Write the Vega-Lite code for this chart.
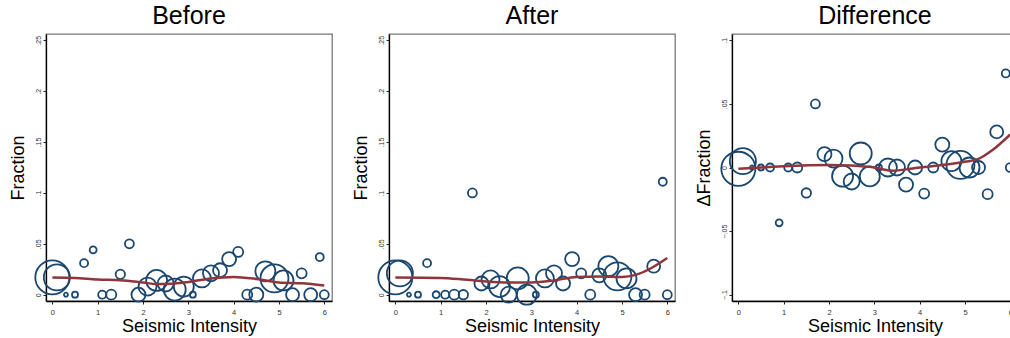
{
  "$schema": "https://vega.github.io/schema/vega-lite/v6.json",
  "padding": {"left": 8, "top": 3, "right": 0, "bottom": 0},
  "background": "white",
  "config": {
    "font": "Liberation Sans",
    "view": {"stroke": "#777777", "strokeWidth": 1.3},
    "concat": {"spacing": 57},
    "title": {"fontSize": 25, "fontWeight": "normal", "color": "#000000", "font": "Liberation Sans", "offset": 5},
    "axis": {
      "grid": false,
      "domainColor": "#000000",
      "domainWidth": 1.3,
      "tickColor": "#222222",
      "tickSize": 3,
      "tickWidth": 1,
      "labelColor": "#333333",
      "labelFont": "Liberation Sans",
      "titleFont": "Liberation Sans",
      "titleFontSize": 18,
      "titleFontWeight": "normal",
      "titleColor": "#000000"
    },
    "axisX": {"labelFontSize": 7.5, "labelPadding": 4, "titlePadding": 2, "labelFlush": false},
    "axisY": {"labelFontSize": 7, "labelAngle": -90, "labelAlign": "center", "labelBaseline": "bottom", "labelPadding": 2, "titlePadding": 7, "labelFlush": false}
  },
  "bounds": "flush",
  "datasets": {
    "bins": [
      {"x": 0, "w": 290, "before": 0.017, "after": 0.017, "diff": -0.001},
      {"x": 0.1, "w": 170, "before": 0.017, "after": 0.021, "diff": 0.005},
      {"x": 0.3, "w": 4, "before": 0, "after": 0, "diff": 0},
      {"x": 0.5, "w": 9, "before": 0, "after": 0, "diff": 0},
      {"x": 0.7, "w": 16, "before": 0.031, "after": 0.031, "diff": 0},
      {"x": 0.9, "w": 12, "before": 0.044, "after": 0, "diff": -0.0435},
      {"x": 1.1, "w": 16, "before": 0, "after": 0, "diff": 0},
      {"x": 1.3, "w": 25, "before": 0, "after": 0, "diff": 0},
      {"x": 1.5, "w": 22, "before": 0.02, "after": 0, "diff": -0.02},
      {"x": 1.7, "w": 20, "before": 0.05, "after": 0.1, "diff": 0.05},
      {"x": 1.9, "w": 49, "before": 0, "after": 0.011, "diff": 0.0105},
      {"x": 2.1, "w": 81, "before": 0.008, "after": 0.015, "diff": 0.007},
      {"x": 2.3, "w": 110, "before": 0.014, "after": 0.008, "diff": -0.0068},
      {"x": 2.5, "w": 64, "before": 0.011, "after": 0, "diff": -0.011},
      {"x": 2.7, "w": 121, "before": 0.005, "after": 0.016, "diff": 0.011},
      {"x": 2.9, "w": 100, "before": 0.008, "after": 0, "diff": -0.007},
      {"x": 3.1, "w": 9, "before": 0, "after": 0, "diff": 0},
      {"x": 3.3, "w": 81, "before": 0.016, "after": 0.016, "diff": 0},
      {"x": 3.5, "w": 64, "before": 0.021, "after": 0.021, "diff": 0},
      {"x": 3.7, "w": 49, "before": 0.024, "after": 0.011, "diff": -0.0135},
      {"x": 3.9, "w": 49, "before": 0.035, "after": 0.035, "diff": 0},
      {"x": 4.1, "w": 25, "before": 0.042, "after": 0.021, "diff": -0.0205},
      {"x": 4.3, "w": 25, "before": 0, "after": 0, "diff": 0},
      {"x": 4.5, "w": 49, "before": 0, "after": 0.019, "diff": 0.018},
      {"x": 4.7, "w": 100, "before": 0.023, "after": 0.028, "diff": 0.005},
      {"x": 4.9, "w": 196, "before": 0.016, "after": 0.018, "diff": 0.002},
      {"x": 5.1, "w": 100, "before": 0.014, "after": 0.016, "diff": 0},
      {"x": 5.3, "w": 42, "before": 0, "after": 0, "diff": 0},
      {"x": 5.5, "w": 25, "before": 0.021, "after": 0, "diff": -0.021},
      {"x": 5.7, "w": 42, "before": 0, "after": 0.028, "diff": 0.028},
      {"x": 5.9, "w": 16, "before": 0.037, "after": 0.111, "diff": 0.074},
      {"x": 6.0, "w": 20, "before": 0, "after": 0, "diff": 0}
    ],
    "fit": [
      {"panel": "before", "x": 0, "y": 0.017},
      {"panel": "before", "x": 0.5, "y": 0.0165},
      {"panel": "before", "x": 1, "y": 0.015},
      {"panel": "before", "x": 1.5, "y": 0.0143},
      {"panel": "before", "x": 2, "y": 0.012},
      {"panel": "before", "x": 2.3, "y": 0.0105},
      {"panel": "before", "x": 2.7, "y": 0.011},
      {"panel": "before", "x": 3, "y": 0.0125},
      {"panel": "before", "x": 3.5, "y": 0.016},
      {"panel": "before", "x": 4, "y": 0.0175},
      {"panel": "before", "x": 4.5, "y": 0.0155},
      {"panel": "before", "x": 5, "y": 0.012},
      {"panel": "before", "x": 5.5, "y": 0.0112},
      {"panel": "before", "x": 6, "y": 0.009},
      {"panel": "after", "x": 0, "y": 0.017},
      {"panel": "after", "x": 1, "y": 0.0165},
      {"panel": "after", "x": 1.5, "y": 0.015},
      {"panel": "after", "x": 2, "y": 0.013},
      {"panel": "after", "x": 2.5, "y": 0.012},
      {"panel": "after", "x": 3, "y": 0.012},
      {"panel": "after", "x": 3.5, "y": 0.014},
      {"panel": "after", "x": 4, "y": 0.0175},
      {"panel": "after", "x": 4.5, "y": 0.018},
      {"panel": "after", "x": 5, "y": 0.0175},
      {"panel": "after", "x": 5.3, "y": 0.0195},
      {"panel": "after", "x": 5.6, "y": 0.025},
      {"panel": "after", "x": 6, "y": 0.036},
      {"panel": "diff", "x": 0, "y": -0.001},
      {"panel": "diff", "x": 0.5, "y": 0},
      {"panel": "diff", "x": 1, "y": 0.001},
      {"panel": "diff", "x": 2, "y": 0.002},
      {"panel": "diff", "x": 2.5, "y": 0.0015},
      {"panel": "diff", "x": 3, "y": 0},
      {"panel": "diff", "x": 3.4, "y": -0.0025},
      {"panel": "diff", "x": 3.8, "y": -0.001},
      {"panel": "diff", "x": 4, "y": 0},
      {"panel": "diff", "x": 4.5, "y": 0.002},
      {"panel": "diff", "x": 5, "y": 0.0045},
      {"panel": "diff", "x": 5.3, "y": 0.0068},
      {"panel": "diff", "x": 5.6, "y": 0.0135},
      {"panel": "diff", "x": 6, "y": 0.026}
    ]
  },
  "hconcat": [
    {
      "width": 286,
      "height": 267,
      "title": "Before",
      "layer": [
        {
          "mark": {"type": "rule", "color": "#555555", "strokeWidth": 1, "strokeDash": [5, 2.5]},
          "encoding": {"x": {"datum": 4, "type": "quantitative"}}
        },
        {
          "data": {"name": "bins"},
          "mark": {"type": "point", "shape": "circle", "filled": false, "stroke": "#1a476f", "strokeWidth": 1.8, "opacity": 1, "clip": false},
          "encoding": {
            "x": {"field": "x", "type": "quantitative", "scale": {"domain": [-0.14, 6.17], "nice": false, "zero": false},
                  "axis": {"values": [0, 1, 2, 3, 4, 5, 6], "title": "Seismic Intensity"}},
            "y": {"field": "before", "type": "quantitative", "scale": {"domain": [-0.0062, 0.2562], "nice": false, "zero": false},
                  "axis": {"values": [0, 0.05, 0.1, 0.15, 0.2, 0.25], "title": "Fraction",
                           "labelExpr": "datum.value == 0 ? '0' : replace(format(datum.value, '.2~f'), '0.', '.')"}},
            "size": {"field": "w", "type": "quantitative", "scale": {"type": "linear", "domain": [0, 300], "range": [0, 1200], "zero": true}, "legend": null}
          }
        },
        {
          "data": {"name": "fit"},
          "transform": [{"filter": "datum.panel == 'before'"}],
          "mark": {"type": "line", "color": "#90353b", "strokeWidth": 2.5, "interpolate": "monotone"},
          "encoding": {
            "x": {"field": "x", "type": "quantitative"},
            "y": {"field": "y", "type": "quantitative"}
          }
        }
      ]
    },
    {
      "width": 286,
      "height": 267,
      "title": "After",
      "layer": [
        {
          "mark": {"type": "rule", "color": "#555555", "strokeWidth": 1, "strokeDash": [5, 2.5]},
          "encoding": {"x": {"datum": 4, "type": "quantitative"}}
        },
        {
          "data": {"name": "bins"},
          "mark": {"type": "point", "shape": "circle", "filled": false, "stroke": "#1a476f", "strokeWidth": 1.8, "opacity": 1, "clip": false},
          "encoding": {
            "x": {"field": "x", "type": "quantitative", "scale": {"domain": [-0.14, 6.17], "nice": false, "zero": false},
                  "axis": {"values": [0, 1, 2, 3, 4, 5, 6], "title": "Seismic Intensity"}},
            "y": {"field": "after", "type": "quantitative", "scale": {"domain": [-0.0062, 0.2562], "nice": false, "zero": false},
                  "axis": {"values": [0, 0.05, 0.1, 0.15, 0.2, 0.25], "title": "Fraction",
                           "labelExpr": "datum.value == 0 ? '0' : replace(format(datum.value, '.2~f'), '0.', '.')"}},
            "size": {"field": "w", "type": "quantitative", "scale": {"type": "linear", "domain": [0, 300], "range": [0, 1200], "zero": true}, "legend": null}
          }
        },
        {
          "data": {"name": "fit"},
          "transform": [{"filter": "datum.panel == 'after'"}],
          "mark": {"type": "line", "color": "#90353b", "strokeWidth": 2.5, "interpolate": "monotone"},
          "encoding": {
            "x": {"field": "x", "type": "quantitative"},
            "y": {"field": "y", "type": "quantitative"}
          }
        }
      ]
    },
    {
      "width": 286,
      "height": 267,
      "title": "Difference",
      "layer": [
        {
          "mark": {"type": "rule", "color": "#555555", "strokeWidth": 1, "strokeDash": [5, 2.5]},
          "encoding": {"x": {"datum": 4, "type": "quantitative"}}
        },
        {
          "mark": {"type": "rule", "color": "#7f7f7f", "strokeWidth": 1.5},
          "encoding": {"y": {"datum": 0, "type": "quantitative"}}
        },
        {
          "data": {"name": "bins"},
          "mark": {"type": "point", "shape": "circle", "filled": false, "stroke": "#1a476f", "strokeWidth": 1.8, "opacity": 1, "clip": false},
          "encoding": {
            "x": {"field": "x", "type": "quantitative", "scale": {"domain": [-0.14, 6.17], "nice": false, "zero": false},
                  "axis": {"values": [0, 1, 2, 3, 4, 5, 6], "title": "Seismic Intensity"}},
            "y": {"field": "diff", "type": "quantitative", "scale": {"domain": [-0.105, 0.105], "nice": false, "zero": false},
                  "axis": {"values": [-0.1, -0.05, 0, 0.05, 0.1], "title": "ΔFraction",
                           "labelExpr": "datum.value == 0 ? '0' : replace(format(datum.value, '.2~f'), '0.', '.')"}},
            "size": {"field": "w", "type": "quantitative", "scale": {"type": "linear", "domain": [0, 300], "range": [0, 1200], "zero": true}, "legend": null}
          }
        },
        {
          "data": {"name": "fit"},
          "transform": [{"filter": "datum.panel == 'diff'"}],
          "mark": {"type": "line", "color": "#90353b", "strokeWidth": 2.5, "interpolate": "monotone"},
          "encoding": {
            "x": {"field": "x", "type": "quantitative"},
            "y": {"field": "y", "type": "quantitative"}
          }
        }
      ]
    }
  ]
}
